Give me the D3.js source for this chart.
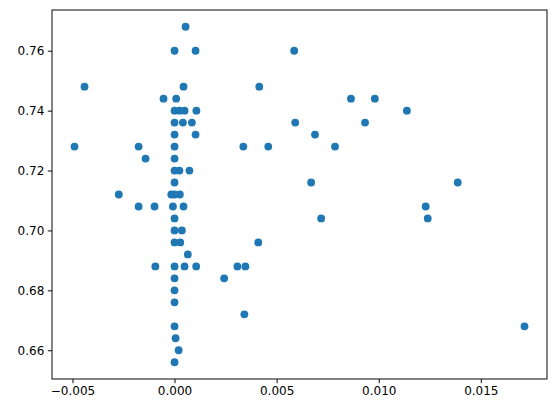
<!DOCTYPE html>
<html><head><meta charset="utf-8">
<script src="https://cdn.jsdelivr.net/npm/d3@7"></script>
<style>body{margin:0;background:#fff}svg{display:block}</style>
</head><body>
<svg id="c" width="556" height="413"></svg>
<script>
const xVals = [0.00054,0,0.00103,0.00586,-0.00441,0.00044,0.00415,-0.00054,0.00008,0.00864,0.00981,
  0,0.00024,0.00049,0.00107,0.01138,0,0.00041,0.00085,0.00591,0.00933,0,0.00103,0.00688,
  -0.0049,-0.00176,0,0.00337,0.00459,0.00786,-0.00142,0,0,0.00024,0.00073,0,0.00669,0.01387,
  -0.00273,-0.00016,0.00026,0,-0.00176,-0.00098,-0.00008,0.00044,0.0123,0,0.00718,0.0124,
  0,0.00036,0,0.00028,0.0041,0.00065,-0.00094,0,0.00049,0.00106,0.00308,0.00347,0,0.00243,
  0,0,0.00342,0,0.00005,0.0002,0,0.01714];
const yVals = [0.768,0.76,0.76,0.76,0.748,0.748,0.748,0.744,0.744,0.744,0.744,
  0.74,0.74,0.74,0.74,0.74,0.736,0.736,0.736,0.736,0.736,0.732,0.732,0.732,
  0.728,0.728,0.728,0.728,0.728,0.728,0.724,0.724,0.72,0.72,0.72,0.716,0.716,0.716,
  0.712,0.712,0.712,0.712,0.708,0.708,0.708,0.708,0.708,0.704,0.704,0.704,
  0.70,0.70,0.696,0.696,0.696,0.692,0.688,0.688,0.688,0.688,0.688,0.688,0.684,0.684,
  0.68,0.676,0.672,0.668,0.664,0.66,0.656,0.668];
const xTicks = [-0.005,0.000,0.005,0.010,0.015];
const yTicks = [0.66,0.68,0.70,0.72,0.74,0.76];

const svg = d3.select('#c');
const L = 52, R = 547, T = 10, B = 379;
const pad = (ext) => { const m = (ext[1]-ext[0])*0.05; return [ext[0]-m, ext[1]+m]; };
const x = d3.scaleLinear().domain(pad(d3.extent(xVals))).range([L, R]);
const y = d3.scaleLinear().domain(pad(d3.extent(yVals))).range([B, T]);
const data = xVals.map((v,i)=>({x:v,y:yVals[i]}));

svg.append('g').selectAll('circle').data(data).join('circle')
  .attr('cx', d=>x(d.x)).attr('cy', d=>y(d.y)).attr('r', 3.9).attr('fill', '#1f77b4');

const font = 'DejaVu Sans, sans-serif';
const xa = svg.append('g').attr('transform', `translate(0,${B})`)
  .call(d3.axisBottom(x).tickValues(xTicks).tickFormat(d3.format('.3f')).tickSize(4.2).tickPadding(3.5));
const ya = svg.append('g').attr('transform', `translate(${L},0)`)
  .call(d3.axisLeft(y).tickValues(yTicks).tickFormat(d3.format('.2f')).tickSize(4.2).tickPadding(3.5));
[xa, ya].forEach(g => {
  g.select('.domain').remove();
  g.selectAll('line').attr('stroke', '#000').attr('stroke-width', 0.97);
  g.selectAll('text').attr('font-family', font).attr('font-size', '12px').attr('fill', '#000');
});
xa.selectAll('text').text(d => d3.format('.3f')(d).replace('-', '\u2212'));
svg.append('rect').attr('x', L).attr('y', T).attr('width', R-L).attr('height', B-T)
  .attr('fill', 'none').attr('stroke', '#000').attr('stroke-width', 0.97);
</script>
</body></html>
